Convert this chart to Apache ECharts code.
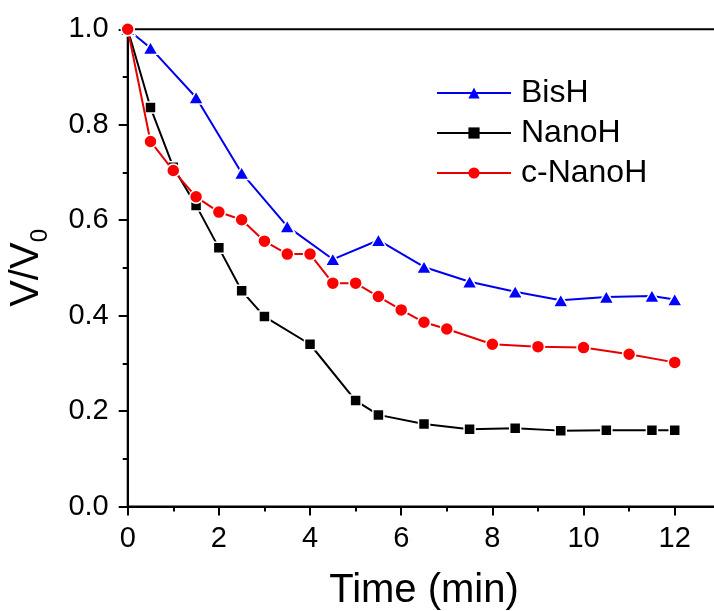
<!DOCTYPE html>
<html>
<head>
<meta charset="utf-8">
<title>V/V0 vs Time</title>
<script src="https://cdn.jsdelivr.net/npm/echarts@6/dist/echarts.min.js"></script>
<style>
  html, body { margin: 0; padding: 0; background: #fff; }
  #chart { width: 714px; height: 611px; }
</style>
</head>
<body>
<div id="chart"></div>
<script>
// Relative volume V/V0 over time for three formulations
const seriesNames = ['BisH', 'NanoH', 'c-NanoH'];

const timeBisH = [0, 0.5, 1.5, 2.5, 3.5, 4.5, 5.5, 6.5, 7.5, 8.5, 9.5, 10.5, 11.5, 12];
const valBisH  = [1.0, 0.961, 0.857, 0.699, 0.587, 0.518, 0.558, 0.502, 0.471, 0.450, 0.432, 0.439, 0.441, 0.434];

const timeNanoH = [0, 0.5, 1, 1.5, 2, 2.5, 3, 4, 5, 5.5, 6.5, 7.5, 8.5, 9.5, 10.5, 11.5, 12];
const valNanoH  = [1.0, 0.836, 0.711, 0.631, 0.542, 0.452, 0.398, 0.340, 0.222, 0.192, 0.173, 0.162, 0.164, 0.159, 0.160, 0.160, 0.160];

const timeCNanoH = [0, 0.5, 1, 1.5, 2, 2.5, 3, 3.5, 4, 4.5, 5, 5.5, 6, 6.5, 7, 8, 9, 10, 11, 12];
const valCNanoH  = [1.0, 0.765, 0.704, 0.649, 0.617, 0.601, 0.556, 0.529, 0.529, 0.468, 0.468, 0.440, 0.412, 0.386, 0.372, 0.340, 0.335, 0.333, 0.319, 0.302];

const xTicks = [0, 2, 4, 6, 8, 10, 12];
const yTicks = ['0.0', '0.2', '0.4', '0.6', '0.8', '1.0'];

const FONT = '"Liberation Sans", Arial, sans-serif';

function pairs(xs, ys) {
  return xs.map((x, i) => [x, ys[i]]);
}

const chart = echarts.init(document.getElementById('chart'), null, { renderer: 'canvas' });

const axisCommon = {
  axisLine: { show: true, lineStyle: { color: '#000', width: 2 } },
  axisTick: { show: true, inside: false, length: 9, lineStyle: { color: '#000', width: 2 } },
  minorTick: { show: true, splitNumber: 2, length: 5, lineStyle: { color: '#000', width: 2 } },
  splitLine: { show: false },
  minorSplitLine: { show: false }
};

chart.setOption({
  animation: false,
  backgroundColor: '#fff',
  grid: {
    left: 127.7,
    top: 29.3,
    width: 592.6,
    height: 477.2,
    outerBoundsMode: 'none',
    show: true,
    borderColor: '#000',
    borderWidth: 2,
    backgroundColor: 'transparent',
    containLabel: false
  },
  legend: {
    orient: 'vertical',
    left: 436,
    top: 73,
    padding: 0,
    itemWidth: 74,
    itemHeight: 14,
    itemGap: 0,
    data: seriesNames,
    itemStyle: { borderWidth: 0 },
    lineStyle: { width: 2 },
    textStyle: {
      fontFamily: FONT,
      fontSize: 32,
      color: '#000',
      lineHeight: 40,
      padding: [0, 0, 0, 5]
    }
  },
  xAxis: Object.assign({
    type: 'value',
    min: 0,
    max: 13,
    interval: 2,
    name: 'Time (min)',
    nameLocation: 'middle',
    nameGap: 64,
    nameTextStyle: { fontFamily: FONT, fontSize: 40, color: '#000' },
    axisLabel: {
      fontFamily: FONT,
      fontSize: 29,
      color: '#000',
      margin: 18,
      showMaxLabel: false,
      formatter: function (v) {
        return xTicks.indexOf(v) >= 0 ? String(v) : '';
      }
    }
  }, axisCommon),
  yAxis: Object.assign({
    type: 'value',
    min: 0,
    max: 1,
    interval: 0.2,
    name: '{v|V/V}{sub|0}',
    nameLocation: 'middle',
    nameRotate: 90,
    nameGap: 75,
    nameTextStyle: {
      fontFamily: FONT,
      color: '#000',
      rich: {
        v: { fontFamily: FONT, fontSize: 40, color: '#000', lineHeight: 52 },
        sub: { fontFamily: FONT, fontSize: 24, color: '#000', lineHeight: 24, verticalAlign: 'bottom' }
      }
    },
    axisLabel: {
      fontFamily: FONT,
      fontSize: 29,
      color: '#000',
      margin: 19,
      formatter: function (v) {
        const i = Math.round(v / 0.2);
        return yTicks[i] !== undefined ? yTicks[i] : '';
      }
    }
  }, axisCommon),
  series: [
    {
      name: 'NanoH',
      type: 'line',
      data: pairs(timeNanoH, valNanoH),
      symbol: 'rect',
      symbolSize: 11,
      lineStyle: { color: '#000000', width: 2 },
      itemStyle: { color: '#000000', borderColor: '#fff', borderWidth: 1.5 },
      z: 2
    },
    {
      name: 'BisH',
      type: 'line',
      data: pairs(timeBisH, valBisH),
      symbol: 'triangle',
      symbolSize: [15, 13],
      lineStyle: { color: '#0000ee', width: 2 },
      itemStyle: { color: '#0000ff', borderColor: '#fff', borderWidth: 1.5 },
      z: 3
    },
    {
      name: 'c-NanoH',
      type: 'line',
      data: pairs(timeCNanoH, valCNanoH),
      symbol: 'circle',
      symbolSize: 13,
      lineStyle: { color: '#e60000', width: 2 },
      itemStyle: { color: '#ff0000', borderColor: '#fff', borderWidth: 1.5 },
      z: 4
    }
  ]
});
</script>
</body>
</html>
